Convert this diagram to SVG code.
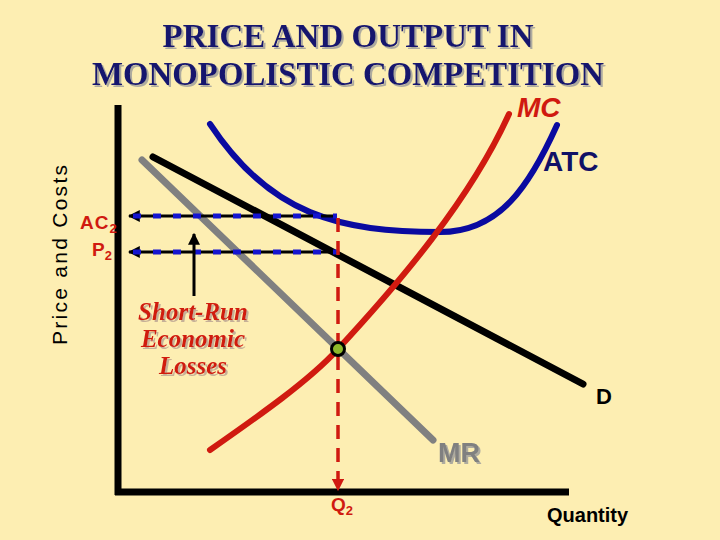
<svg xmlns="http://www.w3.org/2000/svg" width="720" height="540" viewBox="0 0 720 540">
<defs>
<style>
.title{font-family:"Liberation Serif",serif;font-weight:bold;font-size:33px;fill:#14146e;text-anchor:middle}
.sans{font-family:"Liberation Sans",Arial,sans-serif;font-weight:bold}
.red{fill:#d01a10}
.loss{font-family:"Liberation Serif",serif;font-style:italic;font-weight:bold;font-size:25px;fill:#d01a10;text-anchor:middle}
.curve{fill:none;stroke-linecap:round}
</style>
<filter id="sh" x="-5%" y="-20%" width="110%" height="140%"><feDropShadow dx="2" dy="2" stdDeviation="0.3" flood-color="#9a9a9a" flood-opacity="0.8"/></filter>
<filter id="shl" x="-5%" y="-20%" width="110%" height="140%"><feDropShadow dx="2" dy="2" stdDeviation="0.3" flood-color="#b8a090" flood-opacity="0.8"/></filter>
<marker id="ahb" viewBox="0 0 10 10" refX="9" refY="5" markerWidth="4" markerHeight="4" orient="auto"><path d="M0,0 L10,5 L0,10 z" fill="#000"/></marker>
<marker id="ahr" viewBox="0 0 10 10" refX="9" refY="5" markerWidth="3.5" markerHeight="3.5" orient="auto"><path d="M0,0 L10,5 L0,10 z" fill="#d01a10"/></marker>
</defs>
<rect width="720" height="540" fill="#fdeeb2"/>
<g id="title" filter="url(#sh)">
<text class="title" x="348" y="47" textLength="371" lengthAdjust="spacingAndGlyphs">PRICE AND OUTPUT IN</text>
<text class="title" x="348" y="85" textLength="512" lengthAdjust="spacingAndGlyphs">MONOPOLISTIC COMPETITION</text>
</g>
<g id="axes">
<line x1="118" y1="105" x2="118" y2="495" stroke="#000" stroke-width="7"/>
<line x1="115" y1="492" x2="569" y2="492" stroke="#000" stroke-width="7"/>
<text x="0" y="0" font-family="Liberation Sans, Arial, sans-serif" font-size="21" fill="#000" transform="translate(67,255) rotate(-90)" text-anchor="middle" textLength="180" lengthAdjust="spacing">Price and Costs</text>
<text class="sans" x="547" y="522" font-size="20">Quantity</text>
</g>
<g id="connectors">
<path d="M142,160 L433,440" class="curve" stroke="#808080" stroke-width="7"/>
<path d="M153,157 L583,384" class="curve" stroke="#000" stroke-width="7"/>
<path d="M210,124 C270,215 340,232 440,232 C500,232 530,185 557,125" class="curve" stroke="#0a0aa0" stroke-width="6"/>
<path d="M210,450 C260,415 310,380 338,349 C400,282 470,200 509,114" class="curve" stroke="#d01a10" stroke-width="6"/>
<line x1="337" y1="216" x2="129" y2="216" stroke="#000" stroke-width="3" marker-end="url(#ahb)"/>
<line x1="337" y1="216" x2="130" y2="216" stroke="#1515d0" stroke-width="5" stroke-dasharray="8,12" stroke-dashoffset="4"/>
<line x1="337" y1="252" x2="129" y2="252" stroke="#000" stroke-width="3" marker-end="url(#ahb)"/>
<line x1="337" y1="252" x2="130" y2="252" stroke="#1515d0" stroke-width="5" stroke-dasharray="8,12" stroke-dashoffset="4"/>
<line x1="338" y1="218" x2="338" y2="490" stroke="#d01a10" stroke-width="3.5" stroke-dasharray="14,9" marker-end="url(#ahr)"/>
<line x1="194" y1="296" x2="194" y2="234" stroke="#000" stroke-width="3" marker-end="url(#ahb)"/>
<circle cx="338" cy="349" r="6.5" fill="#8db82a" stroke="#000" stroke-width="3"/>
</g>
<g id="labels">
<text class="sans red" x="517" y="117" font-size="28" font-style="italic">MC</text>
<text class="sans" x="543" y="171" font-size="28" fill="#111166">ATC</text>
<text class="sans" x="596" y="404" font-size="22" fill="#000">D</text>
<text class="sans" x="438" y="462" font-size="27" fill="#808080" filter="url(#sh)">MR</text>
<text class="sans red" x="331" y="511" font-size="19">Q<tspan font-size="13" dy="4">2</tspan></text>
<text class="sans red" x="80" y="229" font-size="19" letter-spacing="1">AC<tspan font-size="13" dy="4">2</tspan></text>
<text class="sans red" x="92" y="256" font-size="19">P<tspan font-size="13" dy="4">2</tspan></text>
</g>
<g id="loss-label" filter="url(#shl)">
<text class="loss" x="193" y="320">Short-Run</text>
<text class="loss" x="193" y="347">Economic</text>
<text class="loss" x="193" y="374">Losses</text>
</g>
</svg>
